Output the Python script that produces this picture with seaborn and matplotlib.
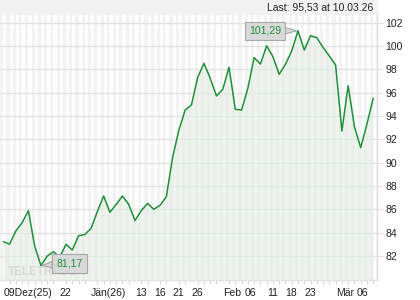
import matplotlib
matplotlib.use("Agg")
import matplotlib.pyplot as plt
import seaborn as sns
import pandas as pd
import numpy as np

# ---- data ----
values = [83.21, 83.01, 84.13, 84.84, 85.87, 82.84, 81.17, 81.98, 82.35, 81.90,
          82.99, 82.50, 83.72, 83.83, 84.36, 85.80, 87.13, 85.73, 86.41, 87.13,
          86.41, 85.03, 85.87, 86.50, 85.99, 86.33, 87.07, 90.44, 92.78, 94.50,
          94.93, 97.30, 98.50, 97.22, 95.70, 96.27, 98.16, 94.56, 94.50, 96.36,
          99.00, 98.44, 100.01, 99.07, 97.56, 98.42, 99.56, 101.29, 99.64, 100.87,
          100.70, 99.86, 99.13, 98.36, 92.70, 96.58, 93.07, 91.27, 93.30, 95.53]
tick_pos = [0, 9, 14, 21, 24, 27, 30, 35, 38.5, 42.1, 44.9, 48.1, 53.1, 56.4]
tick_labels = ["09Dez(25)", "22", "Jän(26)", "13", "16", "21", "26", "Feb",
               "06", "11", "18", "23", "Mär", "06"]
y_ticks = [82, 84, 86, 88, 90, 92, 94, 96, 98, 100, 102]
y_tick_labels = ["82", "84", "86", "88", "90", "92", "94", "96", "98", "100", "102"]
last_text = "Last: 95,53 at 10.03.26"
max_label, min_label = "101,29", "81,17"
watermark = "TELETRADER"

df = pd.DataFrame({"idx": np.arange(len(values)), "price": values})

sns.set_style("white")
plt.rcParams["font.family"] = ["Liberation Sans", "DejaVu Sans"]
plt.rcParams["font.size"] = 7.5

fig = plt.figure(figsize=(4.2, 3.0), dpi=100)
fig.patch.set_facecolor("white")
ax = fig.add_axes([0.0, 1 - 280 / 300, 377 / 420, (280 - 14) / 300])

# header strip
fig.patches.append(plt.Rectangle((0, 1 - 14 / 300), 377 / 420, 14 / 300,
                                 transform=fig.transFigure, color="#f2f2f2", zorder=0))
fig.text(373 / 420, 1 - 7.5 / 300, last_text, ha="right", va="center",
         fontsize=7.5, color="#222222")

n = len(values)
ax.set_xlim(-0.53, 59.6)
ax.set_ylim(79.93, 102.73)

# vertical stripes
for i in range(-1, n + 1):
    ax.axvspan(i - 0.5, i, color="#f3f3f3", lw=0, zorder=0)

# horizontal grid
for yv in y_ticks:
    ax.axhline(yv, color="#e2e2e2", lw=1.0, zorder=1)

ax.fill_between(df["idx"], df["price"], 79.93, color="#e3ede2", alpha=0.6,
                lw=0, zorder=2)
ax.text(0.8, 80.65, watermark, fontsize=8.5, color="#d8d8d8", fontweight="bold",
        ha="left", va="center", zorder=2.5)
sns.lineplot(data=df, x="idx", y="price", ax=ax, color="#1f8f3a", lw=1.1, zorder=3)

# annotations
box = dict(boxstyle="square,pad=0.4", fc="#d9d9d9", ec="#a8a8a8", lw=0.8)
arrow = dict(arrowstyle="wedge,tail_width=0.6,shrink_factor=0.5",
             fc="#d9d9d9", ec="#a8a8a8", lw=0.8, shrinkA=0, shrinkB=1)
ax.annotate(max_label, xy=(47, 101.29), xytext=(41.7, 101.29), ha="center",
            va="center", color="#1f8f3a", fontsize=7.5, bbox=box,
            arrowprops=arrow, zorder=5)
ax.annotate(min_label, xy=(6, 81.17), xytext=(10.6, 81.35), ha="center",
            va="center", color="#1f8f3a", fontsize=7.5, bbox=box,
            arrowprops=arrow, zorder=5)

# axes styling
for s in ["top", "left"]:
    ax.spines[s].set_visible(False)
for s in ["right", "bottom"]:
    ax.spines[s].set_color("#e0e0e0")
    ax.spines[s].set_linewidth(1.0)

ax.yaxis.tick_right()
ax.set_yticks(y_ticks)
ax.set_yticklabels(y_tick_labels)
ax.tick_params(axis="y", length=4, color="#e0e0e0", pad=2, labelsize=7.5,
               labelcolor="#222222")
ax.set_xticks(tick_pos)
ax.set_xticklabels(tick_labels, ha="left")
ax.set_xticks(np.arange(n), minor=True)
ax.tick_params(axis="x", which="major", length=0, pad=6, labelsize=7.5,
               labelcolor="#222222")
ax.tick_params(axis="x", which="minor", length=3, color="#d0d0d0", bottom=True)
ax.set_xlabel("")
ax.set_ylabel("")

fig.savefig("out.png", dpi=100)
